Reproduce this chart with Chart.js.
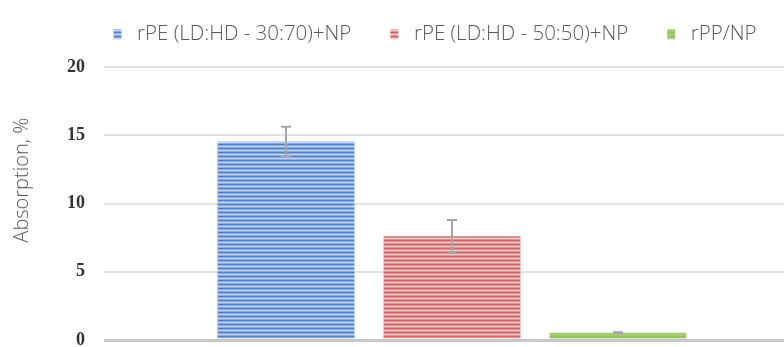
<!DOCTYPE html>
<html>
<head>
<meta charset="utf-8">
<script src="https://cdn.jsdelivr.net/npm/chart.js@4.4.1/dist/chart.umd.min.js"></script>
<style>
  html, body { margin: 0; padding: 0; background: #fff; overflow: hidden; }
  #host { width: 784px; height: 347px; overflow: hidden; }
</style>
</head>
<body>
<div id="host"><canvas id="chart" width="800" height="347"></canvas></div>
<script>
const categories = ['Absorption'];
const seriesNames = ['rPE (LD:HD - 30:70)+NP', 'rPE (LD:HD - 50:50)+NP', 'rPP/NP'];
const seriesValues = [14.55, 7.6, 0.53];
const seriesErrors = [1.07, 1.2, 0.04];
const yTicks = [0, 5, 10, 15, 20];

// horizontal stripe fills, like the office "narrow horizontal" pattern
const stripes = [
  ['#5282c8', '#89abdf', '#c3d5f0', '#89abdf'],
  ['#cf6262', '#df9696', '#f3c8c8', '#df9696'],
  ['#97c15e', '#a3c96f', '#abce79', '#a3c96f']
];

function makePattern(rows) {
  const c = document.createElement('canvas');
  c.width = 4;
  c.height = rows.length;
  const g = c.getContext('2d');
  rows.forEach((col, i) => {
    g.fillStyle = col;
    g.fillRect(0, i, 4, 1);
  });
  return g.createPattern(c, 'repeat');
}

const errorBars = {
  id: 'errorBars',
  afterDatasetsDraw(chart) {
    const {ctx, scales: {y}} = chart;
    ctx.save();
    ctx.strokeStyle = '#a6a6a6';
    ctx.lineWidth = 2;
    chart.data.datasets.forEach((ds, i) => {
      const bar = chart.getDatasetMeta(i).data[0];
      const v = ds.data[0];
      const e = seriesErrors[i];
      const top = y.getPixelForValue(v + e);
      const bottom = y.getPixelForValue(v - e);
      ctx.beginPath();
      ctx.moveTo(bar.x, top);
      ctx.lineTo(bar.x, bottom);
      ctx.moveTo(bar.x - 5, top);
      ctx.lineTo(bar.x + 5, top);
      ctx.moveTo(bar.x - 5, bottom);
      ctx.lineTo(bar.x + 5, bottom);
      ctx.stroke();
    });
    ctx.restore();
  }
};

// legend sits off centre in the original, and the plot starts at y=67
const legendPlace = {
  id: 'legendPlace',
  beforeLayout(chart) {
    const l = chart.legend;
    if (l && !l._fixed) {
      const fit = l.fit.bind(l);
      l.fit = function() { fit(); this.height = 67; };
      l._fixed = true;
    }
  },
  afterLayout(chart) {
    const l = chart.legend;
    l.left += 35;
    l.right += 35;
    l.top = -15;
    l.bottom = l.top + l.height;
  }
};

const ctx = document.getElementById('chart').getContext('2d');

new Chart(ctx, {
  type: 'bar',
  data: {
    labels: categories,
    datasets: seriesNames.map((name, i) => ({
      label: name,
      data: [seriesValues[i]],
      backgroundColor: makePattern(stripes[i]),
      borderWidth: 0,
      categoryPercentage: 0.7155,
      barPercentage: 0.825
    }))
  },
  options: {
    responsive: false,
    animation: false,
    layout: { padding: { left: 0, right: 0, top: 0, bottom: 7 } },
    plugins: {
      tooltip: { enabled: false },
      legend: {
        position: 'top',
        labels: {
          boxWidth: 8,
          boxHeight: 10,
          padding: 39,
          color: '#595959',
          font: { family: 'Open Sans', size: 20.5, weight: 300 },
          generateLabels(chart) {
            return Chart.defaults.plugins.legend.labels.generateLabels(chart)
              .map(item => ({ ...item, text: ' ' + item.text }));
          }
        }
      }
    },
    scales: {
      x: { display: false },
      y: {
        min: 0,
        max: 20,
        afterBuildTicks(scale) {
          scale.ticks = yTicks.map(v => ({ value: v }));
        },
        afterFit(scale) {
          scale.width = 104;
          scale.paddingTop = 0;
          scale.paddingBottom = 0;
        },
        border: { display: false },
        grid: {
          drawTicks: false,
          color: c => c.tick.value === 0 ? '#c8c8c8' : '#e2e2e2',
          lineWidth: c => c.tick.value === 0 ? 3 : 2
        },
        ticks: {
          padding: 19,
          color: '#333333',
          font: { family: 'Liberation Serif', size: 18, weight: 'bold' }
        },
        title: {
          display: true,
          text: '         Absorption, %',
          color: '#595959',
          padding: { top: 10, bottom: 0 },
          font: { family: 'Open Sans', size: 20, weight: 300 }
        }
      }
    }
  },
  plugins: [errorBars, legendPlace]
});
</script>
</body>
</html>
